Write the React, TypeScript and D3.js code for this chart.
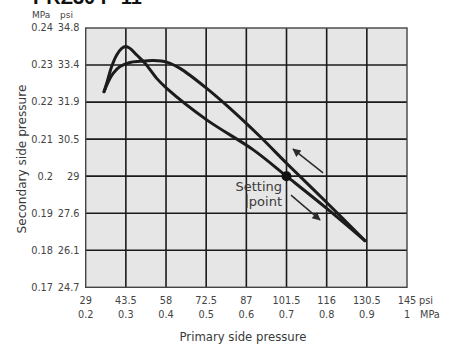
import React from "react";
import * as d3 from "d3";

// X axis (primary side pressure)
const xTicksMPa = [0.2, 0.3, 0.4, 0.5, 0.6, 0.7, 0.8, 0.9, 1.0];
const xLabelsPsi = ["29", "43.5", "58", "72.5", "87", "101.5", "116", "130.5", "145"];
const xLabelsMPa = ["0.2", "0.3", "0.4", "0.5", "0.6", "0.7", "0.8", "0.9", "1"];

// Y axis (secondary side pressure)
const yTicksMPa = [0.24, 0.23, 0.22, 0.21, 0.2, 0.19, 0.18, 0.17];
const yLabelsMPa = ["0.24", "0.23", "0.22", "0.21", "0.2", "0.19", "0.18", "0.17"];
const yLabelsPsi = ["34.8", "33.4", "31.9", "30.5", "29", "27.6", "26.1", "24.7"];

// Branch with the sharp peak (passes through the setting point)
const peakX = [0.2456, 0.2523, 0.2647, 0.2772, 0.2896, 0.2996, 0.3103, 0.327, 0.3477, 0.3768, 0.4017, 0.5013, 0.6174, 0.7, 0.8, 0.895];
const peakY = [0.2228, 0.2251, 0.2296, 0.2327, 0.2345, 0.235, 0.2345, 0.2327, 0.2305, 0.2264, 0.2237, 0.2152, 0.2071, 0.2, 0.1913, 0.1826];

// Branch with the flat top
const flatX = [0.2456, 0.2563, 0.2688, 0.2854, 0.3103, 0.3352, 0.3684, 0.4017, 0.4348, 0.5013, 0.5593, 0.634, 0.7, 0.8, 0.895];
const flatY = [0.2228, 0.2255, 0.2278, 0.2296, 0.2307, 0.231, 0.2312, 0.2308, 0.2291, 0.2237, 0.2183, 0.2107, 0.2035, 0.1929, 0.1826];

const settingPoint = [0.7, 0.2];
// Arrows: [x1, y1, x2, y2] (tail -> head) in data units
const arrowUp = [0.791, 0.2009, 0.7162, 0.2073];
const arrowDown = [0.7112, 0.1949, 0.7834, 0.1882];

const FONT = "'DejaVu Sans', sans-serif";

export default function App() {
  const x = d3.scaleLinear().domain([0.2, 1.0]).range([85.7, 407]);
  const y = d3.scaleLinear().domain([0.17, 0.24]).range([287.3, 28]);

  const line = d3
    .line<[number, number]>()
    .x((d) => x(d[0]))
    .y((d) => y(d[1]))
    .curve(d3.curveCatmullRom.alpha(0.5));

  const peakPts: [number, number][] = peakX.map((v, i) => [v, peakY[i]]);
  const flatPts: [number, number][] = flatX.map((v, i) => [v, flatY[i]]);

  const [x0, x1] = x.range();
  const [y0, y1] = y.range();

  const arrow = (a: number[], key: string) => (
    <line
      key={key}
      x1={x(a[0])}
      y1={y(a[1])}
      x2={x(a[2])}
      y2={y(a[3])}
      stroke="#2a2a2a"
      strokeWidth={1.5}
      markerEnd="url(#ah)"
    />
  );

  return (
    <svg
      width={456}
      height={345}
      style={{ position: "absolute", left: 0, top: 0, background: "#fff" }}
      fontFamily={FONT}
    >
      <defs>
        <marker id="ah" viewBox="0 0 10 10" refX={9} refY={5} markerWidth={7.5} markerHeight={5.5} orient="auto" markerUnits="strokeWidth">
          <path d="M0,0 L10,5 L0,10 z" fill="#2a2a2a" />
        </marker>
      </defs>

      {/* clipped title */}
      <text x={33} y={4} fontSize={20} fontWeight="bold" fill="#111" fontFamily="'Liberation Sans', Arial, sans-serif">
        PRZ30 P-11
      </text>

      {/* plot background */}
      <rect x={x0} y={y1} width={x1 - x0} height={y0 - y1} fill="#e6e6e6" />

      {/* grid */}
      {xTicksMPa.slice(1, -1).map((t) => (
        <line key={"gx" + t} x1={x(t)} x2={x(t)} y1={y1} y2={y0} stroke="#1a1a1a" strokeWidth={1.6} />
      ))}
      {yTicksMPa.slice(1, -1).map((t) => (
        <line key={"gy" + t} x1={x0} x2={x1} y1={y(t)} y2={y(t)} stroke="#1a1a1a" strokeWidth={1.6} />
      ))}
      <rect x={x0} y={y1} width={x1 - x0} height={y0 - y1} fill="none" stroke="#444" strokeWidth={1.4} />

      {/* curves */}
      <path d={line(flatPts) || ""} fill="none" stroke="#1c1c1c" strokeWidth={3} strokeLinejoin="round" strokeLinecap="round" />
      <path d={line(peakPts) || ""} fill="none" stroke="#1c1c1c" strokeWidth={3} strokeLinejoin="round" strokeLinecap="round" />

      {/* setting point */}
      <circle cx={x(settingPoint[0])} cy={y(settingPoint[1])} r={5} fill="#111" />
      <text x={282} y={191} fontSize={13} fill="#3a3a3a" textAnchor="end">Setting</text>
      <text x={282} y={206} fontSize={13} fill="#3a3a3a" textAnchor="end">point</text>
      <line x1={247} x2={247} y1={194} y2={208} stroke="#333" strokeWidth={1} />

      {arrow(arrowUp, "au")}
      {arrow(arrowDown, "ad")}

      {/* y tick labels */}
      <text x={32} y={18} fontSize={9} fill="#444">MPa</text>
      <text x={60} y={18} fontSize={9} fill="#444">psi</text>
      {yTicksMPa.map((t, i) => (
        <g key={"yl" + t} fontSize={9.75} fill="#444">
          <text x={53} y={y(t)} dy="0.35em" textAnchor="end">{yLabelsMPa[i]}</text>
          <text x={79.5} y={y(t)} dy="0.35em" textAnchor="end">{yLabelsPsi[i]}</text>
        </g>
      ))}

      {/* x tick labels */}
      {xTicksMPa.map((t, i) => (
        <g key={"xl" + t} fontSize={9.75} fill="#444" textAnchor="middle">
          <text x={x(t)} y={304}>{xLabelsPsi[i]}</text>
          <text x={x(t)} y={318}>{xLabelsMPa[i]}</text>
        </g>
      ))}
      <text x={419} y={304} fontSize={9.75} fill="#444">psi</text>
      <text x={420} y={318} fontSize={9.75} fill="#444">MPa</text>

      {/* axis titles */}
      <text x={243} y={341} fontSize={11.7} fill="#3a3a3a" textAnchor="middle">Primary side pressure</text>
      <text transform="translate(26,159) rotate(-90)" fontSize={12.1} fill="#3a3a3a" textAnchor="middle">
        Secondary side pressure
      </text>
    </svg>
  );
}
